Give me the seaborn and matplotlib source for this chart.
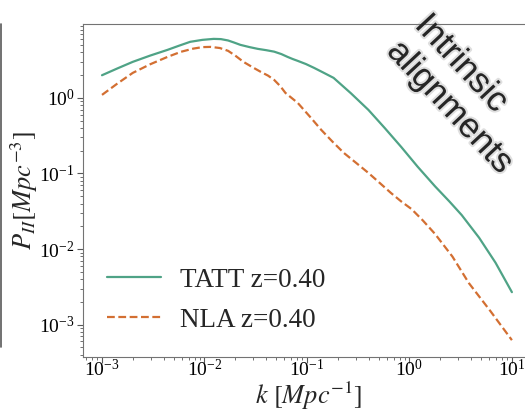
import numpy as np
import pandas as pd
import matplotlib
matplotlib.use('Agg')
import matplotlib.pyplot as plt
import matplotlib.patheffects as pe
from matplotlib.lines import Line2D
import seaborn as sns

# %% Dados, em log10 (k em Mpc^-1, P_II em Mpc^-3)
logk_tatt = [-3.0, -2.85, -2.70, -2.53, -2.36, -2.25, -2.14, -2.02, -1.91, -1.84,
             -1.77, -1.71, -1.65, -1.56, -1.48, -1.40, -1.32, -1.25, -1.19, -1.14,
             -1.09, -1.01, -0.93, -0.84, -0.74, -0.57, -0.40, -0.24, -0.08, 0.08,
             0.25, 0.39, 0.51, 0.68, 0.84, 1.0]
logp_tatt = [0.30, 0.39, 0.477, 0.56, 0.636, 0.69, 0.742, 0.768, 0.781, 0.778,
             0.760, 0.732, 0.702, 0.672, 0.649, 0.632, 0.612, 0.580, 0.543, 0.515,
             0.490, 0.448, 0.397, 0.335, 0.265, 0.06, -0.159, -0.40, -0.649, -0.91,
             -1.17, -1.37, -1.55, -1.85, -2.18, -2.57]

logk_nla = [-3.0, -2.85, -2.70, -2.53, -2.36, -2.23, -2.11, -2.02, -1.94, -1.85,
            -1.77, -1.70, -1.62, -1.53, -1.45, -1.38, -1.32, -1.26, -1.21, -1.15,
            -1.09, -0.97, -0.86, -0.75, -0.64, -0.52, -0.40, -0.29, -0.18, -0.08,
            0.02, 0.13, 0.25, 0.42, 0.58, 0.79, 1.0]
logp_nla = [0.04, 0.19, 0.331, 0.445, 0.543, 0.610, 0.652, 0.672, 0.675, 0.660,
            0.623, 0.56, 0.477, 0.405, 0.344, 0.295, 0.238, 0.155, 0.066, 0.0,
            -0.066, -0.25, -0.424, -0.58, -0.728, -0.86, -0.993, -1.125, -1.258, -1.37,
            -1.47, -1.62, -1.80, -2.10, -2.45, -2.82, -3.205]

labels = ['TATT z=0.40', 'NLA z=0.40']

# %% Monta o DataFrame
df = pd.concat([
    pd.DataFrame({'k': 10 ** np.array(logk_tatt), 'P': 10 ** np.array(logp_tatt), 'modelo': labels[0]}),
    pd.DataFrame({'k': 10 ** np.array(logk_nla), 'P': 10 ** np.array(logp_nla), 'modelo': labels[1]}),
])

# %%
sns.set_style('ticks')
plt.rcParams['font.family'] = ['Liberation Serif', 'DejaVu Serif']
plt.rcParams['mathtext.fontset'] = 'stix'
plt.rcParams['axes.edgecolor'] = '0.45'
plt.rcParams['xtick.color'] = '0.35'
plt.rcParams['ytick.color'] = '0.35'
plt.rcParams['xtick.labelcolor'] = 'black'
plt.rcParams['ytick.labelcolor'] = 'black'

fig = plt.figure(figsize=(5.25, 4.11), dpi=100)
ax = fig.add_axes([0.158, 0.131, 0.86, 0.811])

sns.lineplot(data=df, x='k', y='P', hue='modelo', style='modelo', ax=ax,
             palette=['#4fa386', '#d36f32'], dashes=['', (3.5, 1.6)], lw=1.6, sort=False)

ax.set_xscale('log')
ax.set_yscale('log')
ax.set_xlim(10**-3.186, 10**1.22)
ax.set_ylim(10**-3.43, 10**0.98)

ax.tick_params(which='major', length=4, width=0.8, labelsize=14)
ax.tick_params(which='minor', length=2, width=0.6)
ax.tick_params(axis='x', which='major', pad=-3)
ax.tick_params(axis='y', which='major', pad=2)
ax.set_xlabel(r'$k\ [Mpc^{-1}]$', fontsize=19, labelpad=0)
ax.set_ylabel(r'$P_{II}[Mpc^{-3}]$', fontsize=19, labelpad=-1)

ax.legend(loc='lower left', frameon=False, fontsize=19.5, labelspacing=0.55,
          handlelength=2.0, handletextpad=0.7)

# Texto diagonal no canto superior direito
fig.text(0.884, 0.771, 'Intrinsic\nalignments', rotation=-47, ha='center', va='center',
         multialignment='left', fontsize=25, family=['Liberation Sans', 'DejaVu Sans'],
         linespacing=1.2,
         path_effects=[pe.Stroke(linewidth=3, foreground='0.5', alpha=0.25), pe.Normal()])

# Borda do painel vizinho à esquerda
fig.add_artist(Line2D([0.002, 0.002], [0.155, 0.942], color='0.35', lw=1.2))

fig.savefig('out.png', dpi=100)
